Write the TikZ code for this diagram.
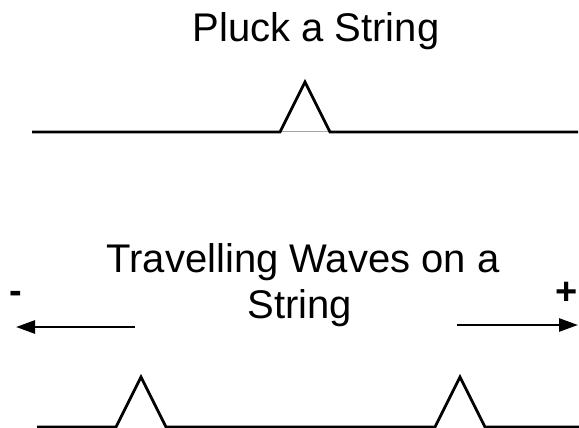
\documentclass[tikz,border=0pt]{standalone}
\usepackage{fontspec}
\setmainfont{Liberation Sans}
\usetikzlibrary{arrows.meta}
\begin{document}
\begin{tikzpicture}[x=1pt,y=-1pt,
  lbl/.style={inner sep=0pt, anchor=base, font=\fontsize{40}{46}\selectfont},
  sign/.style={inner sep=0pt, anchor=base west, font=\fontsize{38}{44}\selectfont\bfseries},
  stringline/.style={line width=2.8pt, line join=miter},
  dirarrow/.style={line width=2.6pt, -{Triangle[length=19pt,width=13pt]}}]
\useasboundingbox (0,0) rectangle (579,428);
% titles
\node[lbl] (pluck) at (316,42) {Pluck a String};
\node[lbl] (trav1) at (303,272) {Travelling Waves on a};
\node[lbl] (trav2) at (300,318) {String};
\node[sign] (minus) at (9,303) {-};
\node[sign] (plus) at (555,304) {+};
% plucked string
\draw[gray!70, line width=1pt] (280,132) -- (330,132);
\draw[stringline] (32,132) -- (280,132) -- (305,82) -- (330,132) -- (578,132);
% travelling waves
\draw[stringline] (37,427) -- (116,427) -- (141,377) -- (166,427) -- (435,427) -- (460,377) -- (485,427) -- (580,427);
% direction arrows
\coordinate (la0) at (135,327);
\coordinate (la1) at (16,327);
\coordinate (ra0) at (457,325);
\coordinate (ra1) at (578,325);
\draw[dirarrow] (la0) -- (la1);
\draw[dirarrow] (ra0) -- (ra1);
\end{tikzpicture}
\end{document}
